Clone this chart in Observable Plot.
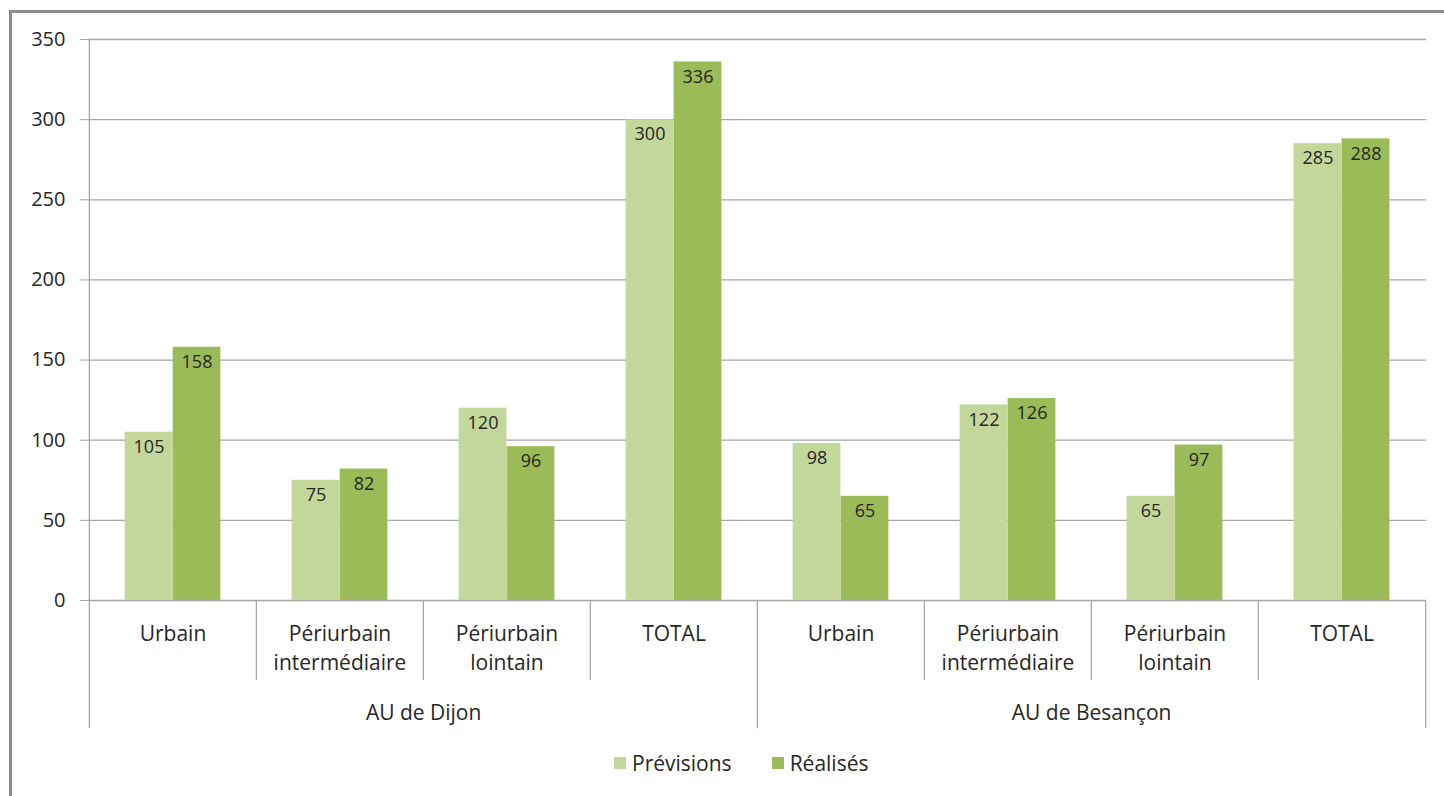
<!DOCTYPE html>
<html>
<head>
<meta charset="utf-8">
<script src="https://cdn.jsdelivr.net/npm/d3@7"></script>
<script src="https://cdn.jsdelivr.net/npm/@observablehq/plot@0.6"></script>
<style>
  body { margin: 0; background: #fff; font-family: "Open Sans", Lato, sans-serif; }
  #wrap { position: relative; width: 1444px; height: 796px; overflow: hidden; }
  #border { position: absolute; left: 9px; top: 10px; width: 1500px; height: 900px;
            border-left: 3px solid #8c8c8c; border-top: 3px solid #8c8c8c; pointer-events: none; }
  #chart { position: absolute; left: 0; top: 0; }
  #legend { position: absolute; top: 740px; left: 614px; height: 46px; display: flex; align-items: center;
            font-size: 21px; color: #262626; }
  .item { display: flex; align-items: center; margin-right: 40px; }
  .sw { width: 12px; height: 12px; margin-right: 6px; }
</style>
</head>
<body>
<div id="wrap">
  <div id="chart"></div>
  <div id="legend"></div>
  <div id="border"></div>
</div>
<script>
const groups = ["AU de Dijon", "AU de Besançon"];
const categories = ["Urbain", "Périurbain\nintermédiaire", "Périurbain\nlointain", "TOTAL"];
const series = ["Prévisions", "Réalisés"];
const previsions = [105, 75, 120, 300, 98, 122, 65, 285];
const realises = [158, 82, 96, 336, 65, 126, 97, 288];
const yTicks = [0, 50, 100, 150, 200, 250, 300, 350];
const colors = ["#c4d79b", "#9bbb59"];

const W = 1444, H = 740, ML = 88, MR = 18, MT = 39, MB = 140;
const keys = [];
groups.forEach((g, gi) => categories.forEach((c, ci) => keys.push({ key: g + "|" + ci, group: g, cat: c, gi, ci })));
const rows = [];
keys.forEach((k, i) => {
  rows.push({ key: k.key, series: series[0], value: previsions[i] });
  rows.push({ key: k.key, series: series[1], value: realises[i] });
});
const bw = (W - ML - MR) / keys.length;
const barW = 48;
const outer = (bw - 2 * barW) / 2;

const ink = "#262626", grid = "#a6a6a6";
const font = "'Open Sans', Lato, sans-serif";

const chart = Plot.plot({
  width: W, height: H,
  marginLeft: ML, marginRight: MR, marginTop: MT, marginBottom: MB,
  style: { fontFamily: font, color: ink, background: "#fff" },
  x: { type: "band", domain: keys.map(d => d.key), padding: 0, axis: null },
  y: { domain: [0, 350], axis: null },
  color: { domain: series, range: colors },
  marks: [
    Plot.ruleY(yTicks, { stroke: grid, strokeWidth: 1.3 }),
    Plot.axisY(yTicks, { ticks: yTicks, tickSize: 8, tickPadding: 15, stroke: grid, fill: ink, fontSize: 20, label: null, tickFormat: d => String(d) }),
    Plot.barY(rows.filter(d => d.series === series[0]), { x: "key", y: "value", fill: "series", insetLeft: outer, insetRight: outer + barW }),
    Plot.barY(rows.filter(d => d.series === series[1]), { x: "key", y: "value", fill: "series", insetLeft: outer + barW, insetRight: outer }),
    Plot.text(rows.filter(d => d.series === series[0]), { x: "key", y: "value", text: d => String(d.value), dx: -barW / 2, dy: 15, fill: ink, fontSize: 18 }),
    Plot.text(rows.filter(d => d.series === series[1]), { x: "key", y: "value", text: d => String(d.value), dx: barW / 2, dy: 15, fill: ink, fontSize: 18 }),
    // left axis line
    Plot.ruleX([keys[0]], { x: "key", y1: -80, y2: 350, dx: -bw / 2, stroke: grid, strokeWidth: 1.3 }),
    // category separators
    Plot.ruleX(keys.slice(1), { x: "key", y1: 0, y2: d => d.ci === 0 ? -80 : -50, dx: -bw / 2, stroke: grid, strokeWidth: 1.3 }),
    Plot.ruleX([keys[keys.length - 1]], { x: "key", y1: 0, y2: -80, dx: bw / 2, stroke: grid, strokeWidth: 1.3 }),
    // category labels
    Plot.text(keys, { x: "key", y: -12, text: "cat", lineAnchor: "top", lineHeight: 1.4, fill: ink, fontSize: 21 }),
    // group labels
    Plot.text(keys.filter(d => d.ci === 1), { x: "key", y: -70.5, text: "group", dx: bw / 2, fill: ink, fontSize: 21 })
  ]
});
document.getElementById("chart").appendChild(chart);

const legend = document.getElementById("legend");
series.forEach((s, i) => {
  const it = document.createElement("div");
  it.className = "item";
  it.innerHTML = `<span class="sw" style="background:${colors[i]}"></span><span>${s}</span>`;
  legend.appendChild(it);
});
</script>
</body>
</html>
